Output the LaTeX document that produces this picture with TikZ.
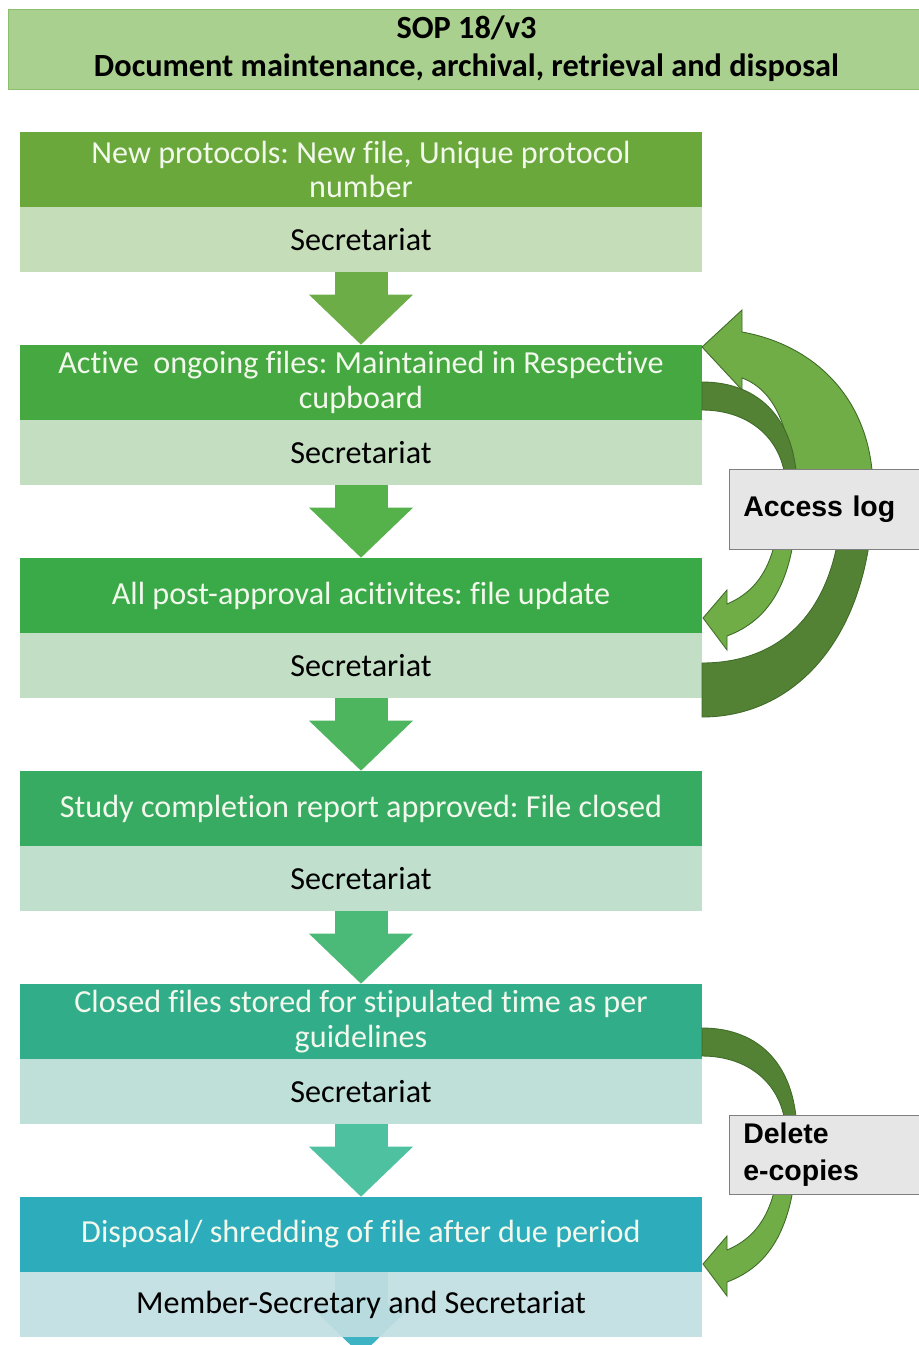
\documentclass[tikz,border=0pt]{standalone}
\usepackage{fontspec}
\setmainfont{Carlito}[Ligatures=NoCommon]
\newfontfamily\arialfont{Liberation Sans}
\usetikzlibrary{arrows.meta}
\frenchspacing

\definecolor{titlefill}{HTML}{A9D08E}
\definecolor{titleline}{HTML}{8CBF6C}
\definecolor{d1}{HTML}{6AA83B}
\definecolor{l1}{HTML}{C6DDB9}
\definecolor{a1}{HTML}{6DAD48}
\definecolor{d2}{HTML}{45A840}
\definecolor{l2}{HTML}{C3DEC0}
\definecolor{a2}{HTML}{55B24B}
\definecolor{d3}{HTML}{3AAA48}
\definecolor{l3}{HTML}{C2DFC5}
\definecolor{a3}{HTML}{4DB55E}
\definecolor{d4}{HTML}{37AB62}
\definecolor{l4}{HTML}{C0E0CD}
\definecolor{a4}{HTML}{4BBA78}
\definecolor{d5}{HTML}{31AD8A}
\definecolor{l5}{HTML}{BEE0D8}
\definecolor{a5}{HTML}{4EC2A0}
\definecolor{d6}{HTML}{2DADBB}
\definecolor{l6}{HTML}{C2DFE3}
\definecolor{a6}{HTML}{3DB3C3}
\definecolor{curvelight}{HTML}{70AD47}
\definecolor{curvedark}{HTML}{548235}
\definecolor{curveline}{HTML}{3F6B28}
\definecolor{notefill}{HTML}{E6E6E6}
\definecolor{noteline}{HTML}{7F7F7F}
\definecolor{boxtext}{HTML}{F2F8EC}

\begin{document}
\begin{tikzpicture}[x=0.02cm, y=-0.02cm]
	\tikzset{titlebox/.style = {shape=rectangle, draw=titleline, fill=titlefill,
			minimum width=18.34cm, minimum height=1.6cm, inner sep=0pt,
			align=center, font=\fontsize{18.4}{20}\selectfont\bfseries}}
	\tikzset{stepbox/.style = {shape=rectangle, minimum width=13.64cm,
			minimum height=1.5cm, inner sep=0pt, align=center, text=boxtext,
			font=\fontsize{18.3}{19.5}\selectfont}}
	\tikzset{whobox/.style = {shape=rectangle, minimum width=13.64cm,
			minimum height=1.3cm, inner sep=0pt, align=center,
			font=\fontsize{18.3}{19.5}\selectfont}}
	\tikzset{notebox/.style = {shape=rectangle, draw=noteline, fill=notefill,
			anchor=west, text width=3.34cm, inner xsep=0.28cm, inner ysep=0pt,
			align=left, font=\arialfont\fontsize{16.2}{21}\selectfont\bfseries}}
	\tikzset{flowarrow/.style = {line width=1.06cm,
			-{Triangle[width=2.08cm, length=1cm, line width=0pt]}}}
	\tikzset{bendarrow/.style = {draw=curveline, line width=0.5pt, line join=miter}}

	\useasboundingbox (0,0) rectangle (919,1345);
	\fill[white] (0,0) rectangle (919,1345);

	% title
	\node[titlebox] (title) at (466.5,49) {SOP 18/v3\\[1.5pt]Document maintenance, archival, retrieval and disposal};

	% steps
	\node[stepbox, fill=d1] (n1) at (361,169.5) {New protocols: New file, Unique protocol\\number};
	\node[whobox, fill=l1] (s1) at (361,239.5) {Secretariat};
	\node[stepbox, fill=d2] (n2) at (361,382.5) {Active~ ongoing files: Maintained in Respective\\cupboard};
	\node[whobox, fill=l2] (s2) at (361,452.5) {Secretariat};
	\node[stepbox, fill=d3] (n3) at (361,595.5) {All post-approval acitivites: file update};
	\node[whobox, fill=l3] (s3) at (361,665.5) {Secretariat};
	\node[stepbox, fill=d4] (n4) at (361,808.5) {Study completion report approved: File closed};
	\node[whobox, fill=l4] (s4) at (361,878.5) {Secretariat};
	\node[stepbox, fill=d5] (n5) at (361,1021.5) {Closed files stored for stipulated time as per\\guidelines};
	\node[whobox, fill=l5] (s5) at (361,1091.5) {Secretariat};
	\node[stepbox, fill=d6] (n6) at (361,1234.5) {Disposal/ shredding of file after due period};
	\coordinate (end) at (361,1355);
	\draw[flowarrow, a6] (n6.south) -- (end);
	\node[whobox, fill=l6, fill opacity=0.93, text opacity=1] (s6) at (361,1304.5) {Member-Secretary and Secretariat};

	% arrows
	\draw[flowarrow, a1] (s1.south) -- (n2.north);
	\draw[flowarrow, a2] (s2.south) -- (n3.north);
	\draw[flowarrow, a3] (s3.south) -- (n4.north);
	\draw[flowarrow, a4] (s4.south) -- (n5.north);
	\draw[flowarrow, a5] (s5.south) -- (n6.north);

	% access log loop
	\path[bendarrow, fill=curvedark] (873,490) .. controls (873,630) and (800,717) .. (702,717)
		-- (702,663) .. controls (790,663) and (842,600) .. (842,490) -- cycle;
	\path[bendarrow, fill=curvelight] (702,347) -- (742,310) -- (742,332)
		.. controls (815,345) and (873,400) .. (873,490) -- (792,490)
		.. controls (792,430) and (775,390) .. (742,378) -- (742,390) -- cycle;
	\foreach \dy in {0,646} {
		\begin{scope}[shift={(0,\dy)}]
			\path[bendarrow, fill=curvedark] (702,382) .. controls (760,382) and (797,420) .. (797,490)
				-- (786,490) .. controls (786,440) and (750,410) .. (702,410) -- cycle;
			\path[bendarrow, fill=curvelight] (797,490) .. controls (797,580) and (770,620) .. (727,636)
				-- (727,650) -- (703,618) -- (727,590) -- (727,604)
				.. controls (760,590) and (780,560) .. (780,490) -- cycle;
		\end{scope}
	}

	% notes
	\node[notebox, minimum height=1.6cm] (log) at (729,509) {Access log};
	\node[notebox, minimum height=1.58cm] (copies) at (729,1154.5) {Delete\\e-copies};

\end{tikzpicture}
\end{document}
